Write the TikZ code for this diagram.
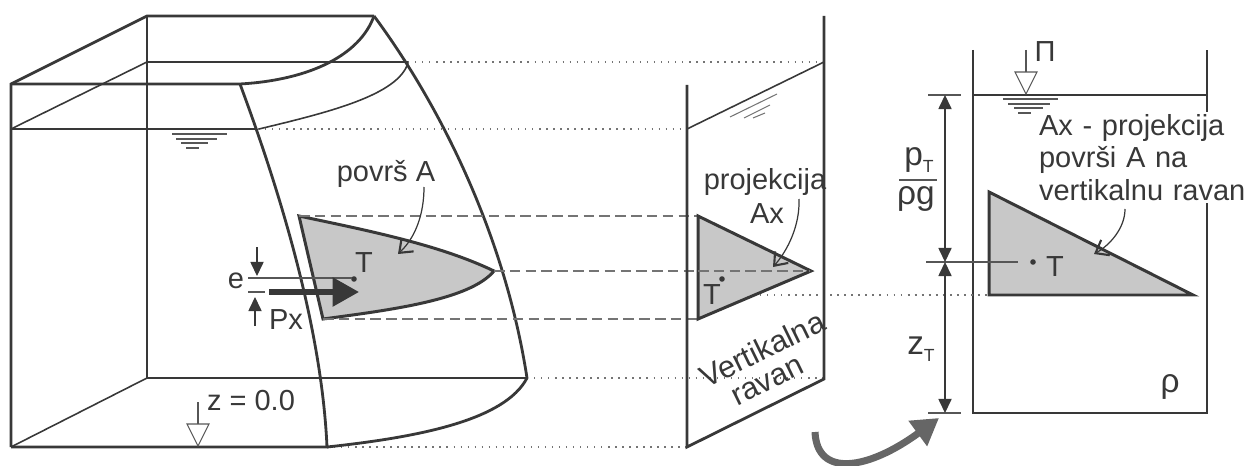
\documentclass[tikz,border=0pt]{standalone}
\usepackage{fontspec}
\setmainfont{Liberation Sans}
\usetikzlibrary{arrows.meta}
\definecolor{ink}{HTML}{383838}
\definecolor{areagray}{HTML}{C8C8C8}
\definecolor{bentgray}{HTML}{666666}
\tikzset{
	wall/.style={draw=ink, line width=1.6pt},
	edge/.style={draw=ink, line width=0.9pt},
	fine/.style={draw=ink!85, line width=0.6pt},
	hidden/.style={draw=ink!70, line width=0.7pt, dash pattern=on 6pt off 3pt},
	level/.style={draw=ink!70, line width=0.7pt, dash pattern=on 0.8pt off 3.2pt},
	area/.style={draw=ink, fill=areagray, line width=1.7pt, line join=miter},
	label/.style={text=ink, font=\fontsize{16.5}{18.7}\selectfont, inner sep=0pt},
	biglabel/.style={text=ink, font=\fontsize{19}{20}\selectfont, inner sep=0pt},
	pointer/.style={draw=ink, line width=0.7pt, -{Straight Barb[length=6.5pt,width=10pt,line width=1.2pt]}},
	dimen/.style={draw=ink, line width=0.7pt, -{Triangle[length=8pt,width=7.5pt]}},
	dimenboth/.style={draw=ink, line width=0.7pt, {Triangle[length=8pt,width=7.5pt]}-{Triangle[length=8pt,width=7.5pt]}}
}
\begin{document}
\begin{tikzpicture}[x=0.02cm, y=-0.02cm]
	\useasboundingbox (0,0) rectangle (1248,466);

	% projekcione linije
	\draw[level] (408,62) -- (824,62);
	\draw[level] (258,129) -- (687,129);
	\draw[level] (527,378) -- (824,378);
	\draw[level] (327,447) -- (687,447);
	\draw[level] (760,295) -- (989,295);

	% sud - tanke linije
	\draw[edge] (147,84) -- (147,378) -- (527,378);
	\draw[edge] (11,447) -- (147,378);
	\draw[edge] (11,129) -- (257,129);
	\draw[edge] (11,129) -- (147,62) -- (408,62);
	\draw[edge] (408,63) .. controls (398,95) and (330,112) .. (259,129);
	% sud - debele linije
	\draw[wall] (11,447) -- (11,84) -- (147,16) -- (374,16);
	\draw[wall] (147,16) -- (147,84);
	\draw[wall] (11,84) -- (240,84) .. controls (310,80) and (360,55) .. (374,16);
	\draw[wall] (240,84) .. controls (285,205) and (322,335) .. (327,447) -- (11,447);
	\draw[wall] (374,16) .. controls (440,105) and (505,235) .. (527,378) .. controls (505,420) and (420,437) .. (327,447);

	% voda
	\draw[fine] (172,134) -- (227,134) (176,139) -- (217,139) (181,143) -- (208,143) (186,148) -- (199,148);

	% povrs A
	\draw[area] (299,216) .. controls (370,231) and (440,245) .. (494,271) .. controls (470,300) and (390,310) .. (323,319) -- cycle;
	\draw[hidden] (299,216) -- (697,216);
	\draw[hidden] (494,271) -- (810,271);
	\draw[hidden] (323,319) -- (697,319);
	\node[label] (povrs) at (386,174) {površ A};
	\coordinate (povrsTip) at (398,254);
	\draw[pointer] (424,187) .. controls (424,215) and (415,238) .. (povrsTip);

	% sila Px
	\fill[ink] (354,279) circle (2.8);
	\node[label] (tA) at (364,263) {T};
	\node[label] (e) at (236,281) {e};
	\node[label] (px) at (286,320) {Px};
	\draw[fine] (248,278) -- (352,278);
	\draw[fine] (248,292) -- (265,292);
	\draw[dimen] (257,247) -- (257,276);
	\draw[dimen] (255,326) -- (255,297);
	\draw[draw=ink, line width=3pt, -{Triangle[length=15pt,width=16pt]}] (269,292) -- (359,292);

	% z = 0.0
	\node[label] (nula) at (251,401) {z = 0.0};
	\draw[fine] (198,402) -- (198,424);
	\draw[fine] (187,424) -- (209,424) -- (198,446) -- cycle;

	% vertikalna ravan
	\draw[wall] (687,85) -- (687,447) -- (824,379) -- (824,16);
	\draw[edge] (687,129) -- (824,62);
	\draw[fine, draw=ink!70] (730,117) -- (777,94) (744,118) -- (770,105) (753,118) -- (765,113);
	\draw[area] (698,216) -- (811,271) -- (698,319) -- cycle;
	\draw[hidden] (698,271) -- (810,271);
	\fill[ink] (722,279) circle (2.8);
	\node[label] (tB) at (712,295) {T};
	\node[label] (projekcija) at (765,182) {projekcija};
	\node[label] (ax) at (767,214) {Ax};
	\coordinate (axTip) at (773,267);
	\draw[pointer] (799,199) .. controls (800,225) and (788,250) .. (axTip);
	\node[label, rotate=26, font=\fontsize{17.5}{18}\selectfont] (vertikalna) at (762,349) {Vertikalna};
	\node[label, rotate=26, font=\fontsize{17.5}{18}\selectfont] (ravan) at (768,382) {ravan};

	% savijena strelica
	\draw[draw=bentgray, line width=4pt, -{Triangle[length=15pt,width=17pt]}] (815,432) .. controls (817,478) and (868,470) .. (939,418);

	% presek
	\draw[wall] (973,50) -- (973,413) -- (1207,413) -- (1207,50);
	\draw[edge] (973,95) -- (1207,95);
	\draw[fine] (1003,99) -- (1058,99) (1008,104) -- (1050,104) (1014,108) -- (1043,108) (1018,113) -- (1031,113);
	\draw[fine] (1026,50) -- (1026,72);
	\draw[fine] (1015,72) -- (1037,72) -- (1026,94) -- cycle;
	\node[label] (pi) at (1045,52) {Π};
	\draw[area] (989,192) -- (1193,295) -- (989,295) -- cycle;
	\draw[level] (880,295) -- (989,295);

	% kote
	\draw[fine] (928,95) -- (961,95);
	\draw[fine] (926,262) -- (1018,262);
	\draw[fine] (928,413) -- (961,413);
	\draw[dimenboth] (945,95) -- (945,262);
	\draw[dimenboth] (945,262) -- (945,413);
	\node[biglabel] (pT) at (919,160) {p\raisebox{-0.4ex}{\fontsize{10}{10}\selectfont T}};
	\draw[fine] (899,180) -- (937,180);
	\node[biglabel] (rhog) at (916,199) {ρg};
	\node[biglabel] (zT) at (921,349) {z\raisebox{-0.4ex}{\fontsize{10}{10}\selectfont T}};
	\fill[ink] (1033,262) circle (2.8);
	\node[label] (tC) at (1055,267) {T};
	\node[biglabel] (rho) at (1170,387) {ρ};

	% tekst preko zida
	\node[label, fill=white, align=left, anchor=north west, inner sep=1pt, text width=182] (opis) at (1037,112) {Ax - projekcija\\površi A na\\vertikalnu ravan};
	\coordinate (opisTip) at (1094,254);
	\draw[pointer] (1125,209) .. controls (1125,228) and (1110,245) .. (opisTip);
\end{tikzpicture}
\end{document}
